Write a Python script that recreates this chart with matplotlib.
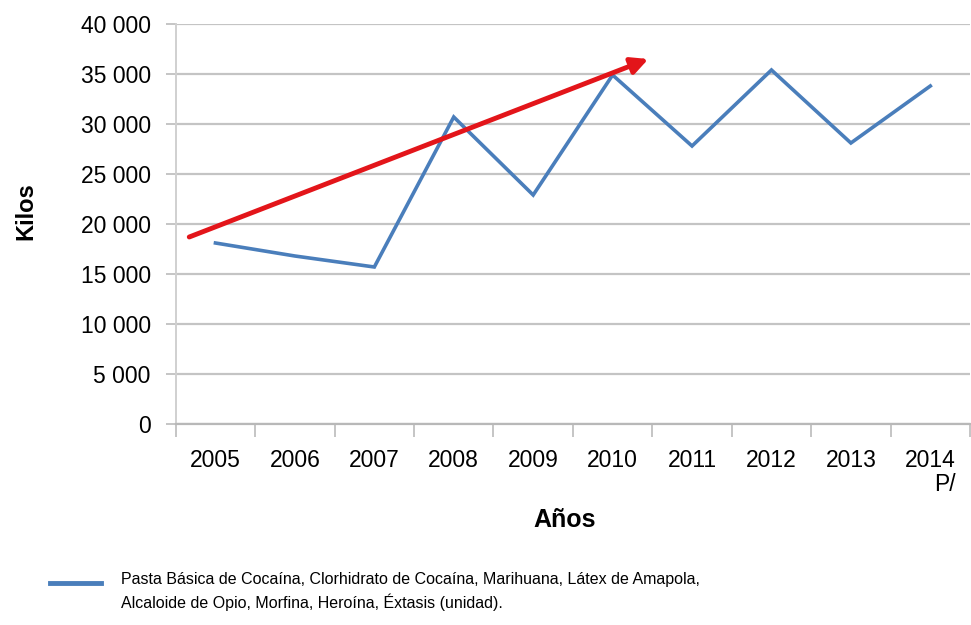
import matplotlib
matplotlib.use("Agg")
import matplotlib.pyplot as plt
from matplotlib import font_manager

years = ["2005", "2006", "2007", "2008", "2009", "2010", "2011", "2012", "2013", "2014\nP/"]
kilos = [18100, 16800, 15700, 30700, 22900, 34900, 27800, 35400, 28100, 33800]
yticks = [0, 5000, 10000, 15000, 20000, 25000, 30000, 35000, 40000]
ytick_labels = ["0", "5 000", "10 000", "15 000", "20 000", "25 000", "30 000", "35 000", "40 000"]
legend_text = ("Pasta Básica de Cocaína, Clorhidrato de Cocaína, Marihuana, Látex de Amapola,\n"
               "Alcaloide de Opio, Morfina, Heroína, Éxtasis (unidad).")

names = {f.name for f in font_manager.fontManager.ttflist}
narrow = "Liberation Sans Narrow" if "Liberation Sans Narrow" in names else "Liberation Sans"
plt.rcParams['font.family'] = [narrow, "DejaVu Sans"]

fig = plt.figure(figsize=(9.71, 6.25), dpi=100)
ax = fig.add_axes([0.181, 0.3216, 0.818, 0.64])

x = list(range(len(years)))
ax.set_xlim(-0.5, len(years) - 0.5)
ax.set_ylim(0, 40000)
ax.set_yticks(yticks)
ax.set_yticklabels(ytick_labels, fontsize=16.5)
ax.yaxis.grid(True, color="#c4c4c4", linewidth=1.6)
ax.set_axisbelow(True)

ax.plot(x, kilos, color="#4a7ebb", linewidth=2.6, solid_joinstyle="miter")

ax.set_xticks(x)
ax.set_xticklabels(years, fontsize=16.5, multialignment="right", linespacing=1.05)
ax.set_xticks([i - 0.5 for i in range(len(years) + 1)], minor=True)
ax.tick_params(axis="x", which="major", length=0, pad=18)
ax.tick_params(axis="x", which="minor", length=9, color="#bbbbbb", width=1.2)
ax.tick_params(axis="y", length=7, color="#bbbbbb", width=1.2, pad=11)

for s in ["top", "right"]:
    ax.spines[s].set_visible(False)
ax.spines["left"].set_color("#d0d0d0")
ax.spines["left"].set_linewidth(1.4)
ax.spines["bottom"].set_color("#b8b8b8")
ax.spines["bottom"].set_linewidth(1.6)

# red trend arrow
ax.annotate("", xy=(5.45, 36500), xytext=(-0.33, 18700),
            arrowprops=dict(arrowstyle="-|>,head_length=1.0,head_width=0.5",
                            color="#e3151a", linewidth=3.5, shrinkA=0, shrinkB=0))

fig.text(0.027, 0.662, "Kilos", rotation=90, fontsize=17, fontweight="bold",
         ha="center", va="center")
fig.text(0.582, 0.168, "Años", fontsize=18, fontweight="bold", ha="center", va="center")

# legend
fig.add_artist(plt.Line2D([0.051, 0.104], [0.067, 0.067], color="#4a7ebb", linewidth=3.5))
fig.text(0.125, 0.0536, legend_text, fontsize=11.5, ha="left", va="center", linespacing=1.45)

fig.savefig("out.png", dpi=100)
